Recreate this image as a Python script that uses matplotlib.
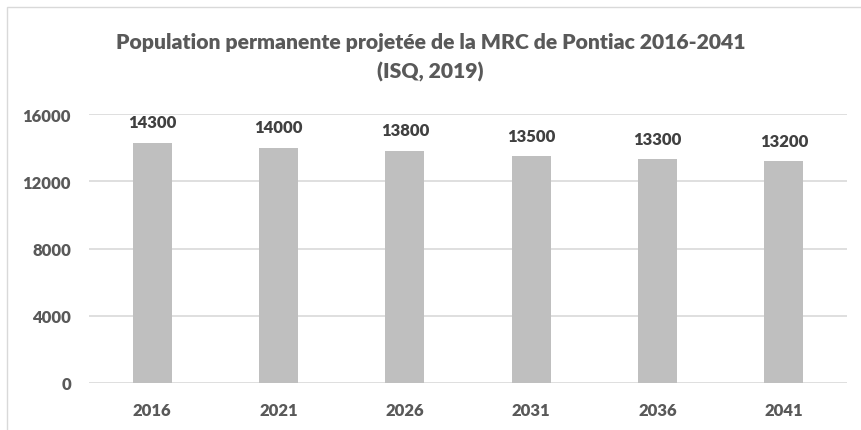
import matplotlib
matplotlib.use("Agg")
import matplotlib.pyplot as plt
from matplotlib.patches import Rectangle

years = ["2016", "2021", "2026", "2031", "2036", "2041"]
population = [14300, 14000, 13800, 13500, 13300, 13200]
yticks = [0, 4000, 8000, 12000, 16000]
title = "Population permanente projetée de la MRC de Pontiac 2016-2041\n(ISQ, 2019)"

plt.rcParams['font.family'] = ['Lato', 'DejaVu Sans']

W, H = 861, 431
fig = plt.figure(figsize=(W / 100, H / 100), dpi=100)
fig.patch.set_facecolor("white")

fig.patches.append(Rectangle((7 / W, -0.1), 1.2, (H - 8) / H + 0.1,
                             transform=fig.transFigure, fill=False,
                             edgecolor="#D9D9D9", linewidth=1.0))

ax = fig.add_axes([89 / W, (H - 384) / H, (847 - 89) / W, (384 - 115) / H])
x = range(len(years))
ax.bar(x, population, width=0.31, color="#BFBFBF", zorder=2)
ax.set_xlim(-0.5, len(years) - 0.5)
ax.set_ylim(0, 16000)
ax.set_yticks(yticks)
ax.set_yticklabels([str(v) for v in yticks])
ax.set_xticks(list(x))
ax.set_xticklabels(years)
ax.yaxis.grid(True, color="#D9D9D9", linewidth=1.2, zorder=0)
ax.set_axisbelow(True)
for s in ax.spines.values():
    s.set_visible(False)
ax.tick_params(axis="both", length=0, colors="#595959", labelsize=12)
ax.tick_params(axis="y", pad=13)
ax.tick_params(axis="x", pad=14)
for lab in ax.get_xticklabels() + ax.get_yticklabels():
    lab.set_fontweight("heavy")

for xi, v in zip(x, population):
    ax.annotate(str(v), (xi, v), xytext=(0, 9), textcoords="offset points",
                ha="center", va="bottom", fontsize=12, fontweight="heavy",
                color="#404040")

fig.text(0.5, (H - 58) / H, title, ha="center", va="center", fontsize=15.2,
         fontweight="heavy", color="#595959", linespacing=1.6)

fig.savefig("out.png", dpi=100)
